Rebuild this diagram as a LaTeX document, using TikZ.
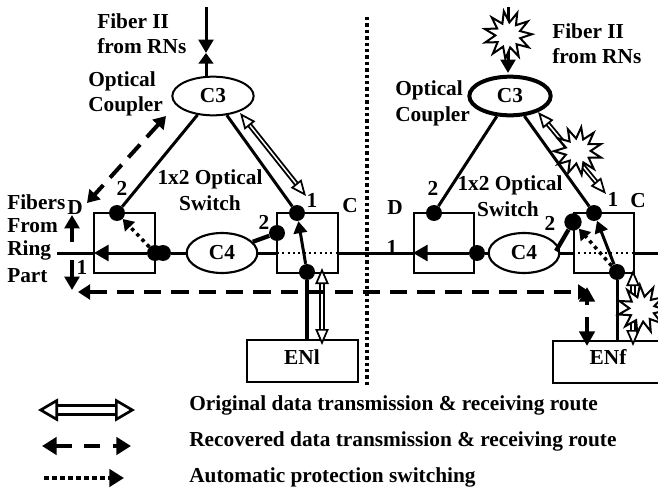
\documentclass[tikz,border=0pt]{standalone}
\usepackage{fontspec}
\setmainfont{Liberation Serif}
\usetikzlibrary{arrows.meta,shapes.geometric,calc}
\newcommand{\lblfont}{\fontsize{16pt}{18pt}\bfseries\selectfont}
\tikzset{
  x=0.75pt,y=-0.75pt,
  txt/.style={inner sep=0pt,font=\lblfont},
  ltxt/.style={txt,anchor=west},
  boxn/.style={draw,line width=1.5pt,minimum width=45.5pt,minimum height=45pt,inner sep=0pt},
  enbox/.style={draw,line width=1.5pt,minimum height=31.5pt,inner sep=0pt},
  coupler/.style={draw,ellipse,line width=1.5pt,minimum width=61pt,minimum height=29pt,inner sep=0pt,font=\lblfont},
  coupc/.style={draw,ellipse,line width=1.6pt,minimum width=53pt,minimum height=30pt,inner sep=0pt,font=\lblfont},
  dotn/.style={circle,fill=black,minimum size=12pt,inner sep=0pt},
  fiber/.style={line width=2.25pt},
  solidtip/.style={-{Triangle[length=10pt,width=11pt]}},
  hollow/.style={double,double distance=1.1pt,line width=1.4pt,
    {Triangle[fill=white,length=12pt,width=10pt,line width=1.3pt]}-{Triangle[fill=white,length=12pt,width=10pt,line width=1.3pt]}},
  recov/.style={line width=3pt,dash pattern=on 13pt off 7.5pt,
    {Triangle[length=9pt,width=11pt]}-{Triangle[length=9pt,width=11pt]}},
  aps/.style={line width=2.6pt,dash pattern=on 2.6pt off 3pt,-{Triangle[length=8pt,width=10pt]}},
  burst/.style={star,star points=11,star point ratio=1.9,draw,fill=white,line width=1.5pt,minimum size=36pt,inner sep=0pt},
}
\begin{document}
\begin{tikzpicture}
\useasboundingbox (0,0) rectangle (658,489);
\clip (0,0) rectangle (658,489);
% ---------- left half ----------
\node[coupler] (c3l) at (213,96) {C3};
\node[coupc] (c4l) at (222,253) {C4};
\node[boxn] (dl) at (124.5,243) {};
\node[boxn] (cl) at (307.5,243) {};
\node[enbox,minimum width=83pt] (enl) at (302.5,361) {};
\node[txt] (enlt) at (302,357) {ENl};
\node[dotn] (a1) at (117,213) {};
\node[dotn] (a2) at (155,253) {};
\node[dotn] (a3) at (163,253) {};
\node[dotn] (a4) at (277,233) {};
\node[dotn] (a5) at (297,213) {};
\node[dotn] (a6) at (307,272) {};
\coordinate (ltop) at (206,7);
\coordinate (lmeet) at (206,53);
\coordinate (lstart) at (57,253);
\coordinate (ldw) at (94,253);
\coordinate (lcw) at (277,253);
\coordinate (lce) at (338,253);
\coordinate (mid) at (368,253);
\draw[fiber,-{Triangle[length=10pt,width=11pt]}] (ltop) -- (lmeet);
\draw[fiber,-{Triangle[length=8pt,width=11pt]}] (c3l.north -| ltop) -- (lmeet);
\draw[fiber] (c3l) -- (a1);
\draw[fiber] (c3l) -- (a5);
\draw[fiber] (lstart) -- (ldw);
\draw[fiber,{Triangle[length=11pt,width=12pt]}-] (ldw) -- (a2);
\draw[fiber] (a3) -- (c4l);
\draw[fiber] (c4l.east |- lcw) -- (lcw);
\draw[line width=1.6pt,dash pattern=on 1.6pt off 2.4pt] (lcw) -- (lce);
\draw[fiber] (lce) -- (mid);
\draw[line width=3.2pt] (c4l) -- (a4);
\draw[aps] (a2) -- (a1);
\draw[fiber,-{Triangle[length=9pt,width=10pt]}] (a6) -- (a5);
\draw[line width=3pt] (a6) -- (a6 |- enl.north);
\coordinate (r1) at (240,113);
\coordinate (r2) at (306,196);
\draw[hollow] (r1) -- (r2);
\coordinate (h1) at (322,268);
\coordinate (h2) at (322,345);
\draw[hollow] (h1) -- (h2);
\coordinate (k1) at (166,116);
\coordinate (k2) at (87,203);
\draw[recov] (k1) -- (k2);
\coordinate (up1) at (72,242);
\coordinate (up2) at (72,215);
\coordinate (dn1) at (72,260);
\coordinate (dn2) at (72,290);
\draw[line width=2.6pt,solidtip] (up1) -- (up2);
\draw[line width=2.6pt,solidtip] (dn1) -- (dn2);
\coordinate (m1) at (78,292);
\coordinate (m2) at (590,292);
\draw[recov] (m1) -- (m2);
% divider
\coordinate (v1) at (367,17);
\coordinate (v2) at (367,388);
\draw[line width=2.6pt,dash pattern=on 2.6pt off 2.2pt] (v1) -- (v2);
% ---------- right half ----------
\node[coupler,line width=3pt] (c3r) at (510,96) {C3};
\node[coupc] (c4r) at (524,253) {C4};
\node[boxn] (dr) at (444,243) {};
\node[boxn] (cr) at (604,243) {};
\node[enbox,minimum width=120pt,anchor=north west] (enr) at (552,340) {};
\node[txt] (enft) at (608,357) {ENf};
\node[dotn] (b1) at (434,213) {};
\node[dotn] (b2) at (477,253) {};
\node[dotn,minimum size=13pt] (b3) at (573,222) {};
\node[dotn] (b4) at (594,213) {};
\node[dotn] (b5) at (617,272) {};
\coordinate (rtop) at (508,7);
\coordinate (rtip) at (508,73);
\coordinate (rstart) at (360,253);
\coordinate (rdw) at (413,253);
\coordinate (rcw) at (573,253);
\coordinate (rce) at (635,253);
\coordinate (rend) at (658,253);
\coordinate (c4rtap) at (556,251);
\draw[fiber,-{Triangle[length=10pt,width=11pt]}] (rtop) -- (rtip);
\draw[fiber] (c3r) -- (b1);
\draw[fiber] (c3r) -- (b4);
\draw[fiber] (rstart) -- (rdw);
\draw[fiber,{Triangle[length=11pt,width=12pt]}-] (rdw) -- (b2);
\draw[fiber] (b2) -- (c4r);
\draw[fiber] (c4r.east |- rcw) -- (rcw);
\draw[line width=1.6pt,dash pattern=on 1.6pt off 2.4pt] (rcw) -- (rce);
\draw[fiber] (rce) -- (rend);
\draw[line width=3.2pt] (c4rtap) -- (b3);
\draw[aps] (b5) -- (b3);
\draw[fiber,-{Triangle[length=9pt,width=10pt]}] (b5) -- (b4);
\draw[fiber] (b5) -- (b5 |- enr.north);
\coordinate (s1) at (538,112);
\coordinate (s2) at (606,194);
\draw[hollow] (s1) -- (s2);
\coordinate (t1) at (633,270);
\coordinate (t2) at (633,346);
\draw[hollow] (t1) -- (t2);
\coordinate (u1) at (587,317);
\coordinate (u2) at (587,346);
\coordinate (u3) at (587,305);
\coordinate (u4) at (587,287);
\draw[line width=3pt,-{Triangle[length=11pt,width=11.5pt]}] (u1) -- (u2);
\draw[line width=3pt,-{Triangle[length=11pt,width=11.5pt]}] (u3) -- (u4);
\node[burst,rotate=10] (x1) at (508,35) {};
\node[burst,rotate=25] (x2) at (578,151) {};
\node[burst,rotate=5] (x3) at (642,309) {};
% ---------- labels ----------
\node[ltxt] (t01) at (97,21) {Fiber II};
\node[ltxt] (t02) at (97,46) {from RNs};
\node[ltxt] (t03) at (88,81) {Optical};
\node[ltxt] (t04) at (88,106) {Coupler};
\node[txt] (t05) at (210,179) {1x2 Optical};
\node[txt] (t06) at (210,203) {Switch};
\node[ltxt] (t07) at (7,202) {Fibers};
\node[ltxt] (t08) at (7,226) {From};
\node[ltxt] (t09) at (7,250) {Ring};
\node[ltxt] (t10) at (7,276) {Part};
\node[txt] (t11) at (75,208) {D};
\node[txt] (t12) at (82,267) {1};
\node[txt] (t13) at (122,188) {2};
\node[txt] (t14) at (264,222) {2};
\node[txt] (t15) at (312,200) {1};
\node[txt] (t16) at (350,206) {C};
\node[ltxt] (t17) at (552,31) {Fiber II};
\node[ltxt] (t18) at (552,56) {from RNs};
\node[ltxt] (t19) at (395,90) {Optical};
\node[ltxt] (t20) at (395,116) {Coupler};
\node[txt] (t21) at (510,185) {1x2 Optical};
\node[txt] (t22) at (508,209) {Switch};
\node[txt] (t23) at (395,208) {D};
\node[txt] (t24) at (392,247) {1};
\node[txt] (t25) at (433,188) {2};
\node[txt] (t26) at (550,223) {2};
\node[txt] (t27) at (613,199) {1};
\node[txt] (t28) at (638,201) {C};
% ---------- legend ----------
\coordinate (l1a) at (38,410);
\coordinate (l1b) at (135,410);
\draw[double,double distance=4.5pt,line width=2.4pt,
  {Triangle[fill=white,length=15pt,width=17pt,line width=2pt]}-{Triangle[fill=white,length=15pt,width=17pt,line width=2pt]}] (l1a) -- (l1b);
\coordinate (l2a) at (42,446);
\coordinate (l2b) at (131,446);
\draw[line width=3.4pt,dash pattern=on 12pt off 9.4pt,{Triangle[length=11pt,width=13pt]}-{Triangle[length=11pt,width=13pt]}] (l2a) -- (l2b);
\coordinate (l3a) at (44,478);
\coordinate (l3b) at (124,478);
\draw[line width=2.6pt,dash pattern=on 3.4pt off 2.6pt,-{Triangle[length=11pt,width=13pt]}] (l3a) -- (l3b);
\node[ltxt] (g1) at (189,405) {Original data transmission \& receiving route};
\node[ltxt] (g2) at (189,441) {Recovered data transmission \& receiving route};
\node[ltxt] (g3) at (189,477) {Automatic protection switching};
\end{tikzpicture}
\end{document}
